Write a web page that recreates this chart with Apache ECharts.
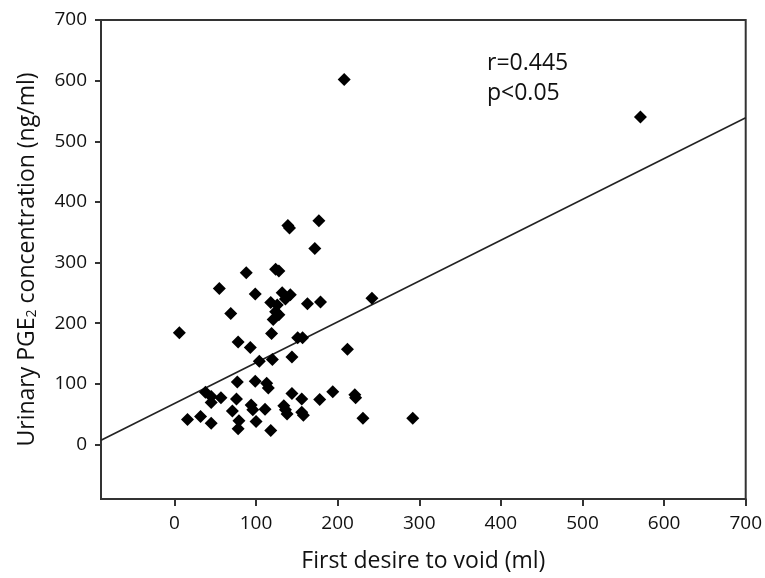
<!DOCTYPE html>
<html>
<head>
<meta charset="utf-8">
<script src="https://cdn.jsdelivr.net/npm/echarts@6/dist/echarts.min.js"></script>
<style>html,body{margin:0;padding:0;background:#fff}#c{width:765px;height:578px}</style>
</head>
<body>
<div id="c"></div>
<script>
// First desire to void (ml)
var firstDesire = [208,571,177,139,141,172,88,124,128,55,99,132,142,136,118,126,163,179,242,124,128,121,69,6,119,78,93,151,157,104,120,144,212,77,99,113,115,38,45,45,57,76,144,156,178,194,221,222,71,94,96,111,134,136,138,156,158,16,32,45,79,78,100,118,231,292];
// Urinary PGE2 concentration (ng/ml)
var pge2 = [602,540,369,361,357,323,283,289,286,257,248,250,247,240,234,230,232,235,241,219,214,206,216,184,183,169,160,176,176,137,140,144,157,103,104,101,93,86,79,69,77,75,84,75,74,87,82,77,55,65,57,58,64,57,50,53,48,41,46,35,39,26,38,23,43,43];
var xTicks = [0,100,200,300,400,500,600,700];
var yTicks = [0,100,200,300,400,500,600,700];
var xMin = -90, xMax = 700, yMin = -90, yMax = 700;
// regression line
var slope = 0.673, intercept = 67.6;
var statLines = ['r=0.445', 'p<0.05'];

var points = firstDesire.map(function (x, i) { return [x, pge2[i]]; });
var fitLine = [[xMin, intercept + slope * xMin], [xMax, intercept + slope * xMax]];

var chart = echarts.init(document.getElementById('c'));
var axisCol = '#333';
var txt = '#111';
var font = '"Open Sans", "Noto Sans", sans-serif';
chart.setOption({
  animation: false,
  backgroundColor: '#fff',
  textStyle: { fontFamily: font },
  grid: { left: 101, right: 14, top: 20, bottom: 79, show: true, borderColor: axisCol, borderWidth: 2, backgroundColor: 'transparent' },
  xAxis: {
    type: 'value', min: xMin, max: xMax,
    name: 'First desire to void (ml)', nameLocation: 'middle', nameGap: 51,
    nameTextStyle: { fontSize: 23, color: txt, fontFamily: font },
    axisLine: { show: true, onZero: false, lineStyle: { color: axisCol, width: 2 } },
    axisTick: { show: true, customValues: xTicks, length: 7, lineStyle: { color: axisCol, width: 2 } },
    axisLabel: { customValues: xTicks, fontSize: 19, color: txt, margin: 15, fontFamily: font },
    splitLine: { show: false }
  },
  yAxis: {
    type: 'value', min: yMin, max: yMax,
    name: '{t|Urinary PGE}{s|2}{t| concentration (ng/ml)}', nameLocation: 'middle', nameGap: 62, nameRotate: 90,
    nameTextStyle: {
      color: txt, fontFamily: font,
      rich: {
        t: { fontSize: 23, lineHeight: 30, color: txt, fontFamily: font, verticalAlign: 'bottom' },
        s: { fontSize: 14, lineHeight: 15, color: txt, fontFamily: font, verticalAlign: 'bottom' }
      }
    },
    axisLine: { show: true, onZero: false, lineStyle: { color: axisCol, width: 2 } },
    axisTick: { show: true, customValues: yTicks, length: 6, lineStyle: { color: axisCol, width: 2 } },
    axisLabel: { customValues: yTicks, fontSize: 19, color: txt, margin: 14, fontFamily: font },
    splitLine: { show: false }
  },
  graphic: [{
    type: 'text', left: 487, top: 48,
    style: { text: statLines.join('\n'), font: '23px "Open Sans", sans-serif', fill: txt, lineHeight: 30 }
  }],
  series: [
    {
      type: 'line', data: fitLine, symbol: 'none', silent: true,
      lineStyle: { color: '#222', width: 1.6 }, z: 1
    },
    {
      type: 'scatter', data: points, symbol: 'diamond', symbolSize: 13,
      itemStyle: { color: '#000', opacity: 1 }, z: 2
    }
  ]
});
</script>
</body>
</html>
